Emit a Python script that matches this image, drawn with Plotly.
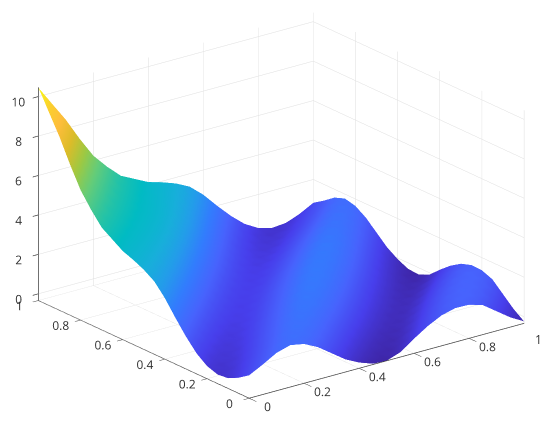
import plotly.graph_objects as go

x_vals = [i / 20 for i in range(21)]
y_vals = [j / 20 for j in range(21)]

z_rows = [
[.82,1.18,1.58,1.78,1.65,1.30,.80,.30,-.05,-.30,-.34,-.10,.40,.85,1.20,1.38,1.36,1.15,.65,.15,-.24],
[.45,.84,1.21,1.62,1.83,1.71,1.37,.87,.38,.03,-.22,-.26,-.02,.47,.92,1.26,1.43,1.40,1.18,.67,.15],
[.18,.48,.87,1.25,1.67,1.89,1.77,1.43,.93,.44,.09,-.16,-.21,.03,.52,.96,1.29,1.45,1.41,1.18,.65],
[.12,.22,.52,.92,1.31,1.73,1.95,1.83,1.49,1.00,.50,.15,-.11,-.16,.07,.55,.98,1.30,1.45,1.40,1.15],
[.30,.17,.27,.58,.99,1.38,1.80,2.02,1.90,1.56,1.06,.56,.20,-.06,-.12,.10,.57,.98,1.29,1.43,1.36],
[.70,.36,.23,.33,.64,1.05,1.43,1.85,2.07,1.95,1.60,1.10,.59,.22,-.05,-.11,.09,.55,.96,1.26,1.38],
[1.30,.76,.42,.29,.40,.71,1.11,1.49,1.91,2.12,1.99,1.64,1.13,.61,.24,-.04,-.12,.07,.52,.91,1.20],
[2.00,1.37,.83,.48,.35,.45,.75,1.15,1.53,1.94,2.14,2.01,1.65,1.13,.60,.22,-.07,-.16,.03,.47,.85],
[2.75,2.07,1.44,.89,.54,.41,.50,.80,1.18,1.56,1.96,2.16,2.01,1.65,1.12,.59,.19,-.11,-.20,-.03,.40],
[3.35,2.83,2.14,1.50,.96,.60,.46,.54,.83,1.22,1.58,1.98,2.16,2.01,1.64,1.10,.56,.15,-.16,-.26,-.10],
[3.70,3.43,2.89,2.20,1.56,1.00,.64,.48,.56,.85,1.22,1.58,1.96,2.14,1.99,1.60,1.06,.50,.09,-.22,-.34],
[3.95,3.78,3.49,2.95,2.26,1.60,1.04,.66,.50,.58,.85,1.22,1.56,1.94,2.12,1.95,1.56,1.00,.44,.03,-.30],
[4.15,4.02,3.84,3.54,2.99,2.29,1.62,1.05,.66,.50,.56,.83,1.18,1.53,1.90,2.07,1.89,1.49,.94,.37,-.05],
[4.50,4.22,4.08,3.88,3.58,3.02,2.30,1.63,1.05,.66,.48,.54,.80,1.15,1.48,1.85,2.01,1.83,1.43,.87,.30],
[4.85,4.56,4.27,4.12,3.92,3.61,3.04,2.31,1.63,1.04,.64,.46,.51,.76,1.11,1.44,1.80,1.95,1.77,1.36,.80],
[5.50,4.91,4.61,4.30,4.14,3.93,3.60,3.02,2.29,1.60,1.00,.60,.41,.45,.70,1.05,1.37,1.73,1.89,1.71,1.30],
[6.25,5.55,4.94,4.63,4.32,4.15,3.92,3.59,3.00,2.26,1.56,.96,.55,.36,.40,.65,.99,1.31,1.67,1.83,1.65],
[7.30,6.29,5.57,4.95,4.63,4.30,4.12,3.88,3.54,2.95,2.20,1.50,.89,.48,.29,.33,.58,.92,1.25,1.62,1.78],
[8.45,7.33,6.30,5.57,4.94,4.61,4.27,4.08,3.83,3.49,2.89,2.14,1.43,.83,.42,.23,.27,.52,.87,1.21,1.58],
[9.45,8.47,7.33,6.29,5.55,4.91,4.57,4.22,4.03,3.78,3.43,2.83,2.08,1.37,.77,.36,.17,.22,.48,.84,1.18],
[10.46,9.45,8.45,7.30,6.25,5.50,4.85,4.50,4.15,3.95,3.70,3.35,2.75,2.00,1.30,.70,.30,.12,.18,.45,.82],
]

x_ticks = [0, 0.2, 0.4, 0.6, 0.8]
x_labels = ["0", "0.2", "0.4", "0.6", "0.8"]
y_ticks = [0, 0.2, 0.4, 0.6, 0.8, 1]
y_labels = ["0", "0.2", "0.4", "0.6", "0.8", "1"]
z_ticks = [0, 2, 4, 6, 8, 10]

parula = [
    [0.00, "rgb(62,38,168)"], [0.08, "rgb(71,62,235)"], [0.16, "rgb(71,99,253)"],
    [0.24, "rgb(50,125,253)"], [0.31, "rgb(36,155,235)"], [0.37, "rgb(24,174,219)"],
    [0.43, "rgb(1,187,195)"], [0.50, "rgb(44,196,161)"], [0.58, "rgb(99,204,122)"],
    [0.66, "rgb(157,201,67)"], [0.75, "rgb(221,188,41)"], [0.84, "rgb(254,190,60)"],
    [0.92, "rgb(250,210,45)"], [1.00, "rgb(249,251,21)"],
]

tick_font = dict(family="Open Sans", size=12, color="#333333")
axis_common = dict(
    showbackground=False, gridcolor="#dedede", gridwidth=1, zeroline=False,
    showline=True, linecolor="#404040", linewidth=1.5, ticks="outside",
    tickcolor="#404040", tickwidth=1.5, title=dict(text=""), showspikes=False,
    tickangle=0, tickfont=tick_font,
)

fig = go.Figure(go.Surface(
    x=x_vals, y=y_vals, z=z_rows, colorscale=parula, cmin=-0.34, cmax=10.46,
    showscale=False,
    lighting=dict(ambient=1, diffuse=0, specular=0, roughness=1, fresnel=0),
    hoverinfo="skip",
))

cx, cy, cz = -0.126, -0.178, 0.0
fig.update_layout(
    width=550, height=428, margin=dict(l=0, r=0, t=0, b=0),
    paper_bgcolor="white",
    scene=dict(
        domain=dict(x=[0.0, 1.0], y=[0.0, 1.0]),
        xaxis=dict(range=[0, 1], tickvals=x_ticks, ticktext=x_labels, ticklen=7, **axis_common),
        yaxis=dict(range=[0, 1], tickvals=y_ticks, ticktext=y_labels, ticklen=12, **axis_common),
        zaxis=dict(range=[-0.34, 10.46], tickvals=z_ticks, ticklen=6, **axis_common),
        aspectmode="manual", aspectratio=dict(x=1.619, y=1.619, z=1.065),
        camera=dict(
            projection=dict(type="orthographic"),
            eye=dict(x=-0.568 * 1.7 + cx, y=-0.741 * 1.7 + cy, z=0.355 * 1.7 + cz),
            up=dict(x=0, y=0, z=1), center=dict(x=cx, y=cy, z=cz),
        ),
        annotations=[dict(
            x=1, y=0, z=-0.34, text="1", showarrow=False,
            xshift=14, yshift=-16, font=tick_font,
        )],
    ),
)
fig.write_html("out.html", config=dict(displayModeBar=False))
